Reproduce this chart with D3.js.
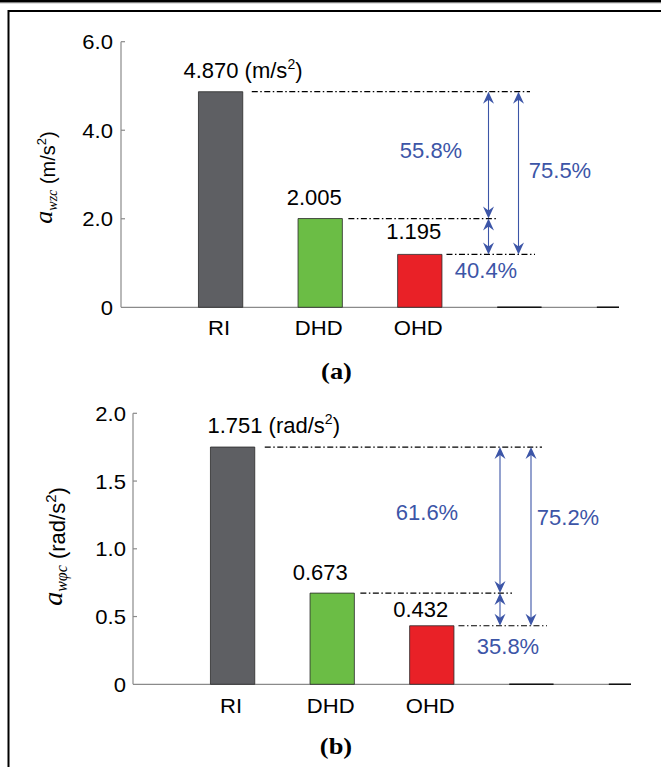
<!DOCTYPE html>
<html><head><meta charset="utf-8">
<script src="https://cdn.jsdelivr.net/npm/d3@7"></script>
<style>html,body{margin:0;padding:0;background:#fff;overflow:hidden} svg{display:block}</style>
</head><body>
<script>
// ---------- data ----------
const categories = ["RI", "DHD", "OHD", "", ""];
const valuesA = [4.870, 2.005, 1.195, 0, 0];
const valuesB = [1.751, 0.673, 0.432, 0, 0];
const valueLabelsA = ["4.870", "2.005", "1.195"];
const valueLabelsB = ["1.751", "0.673", "0.432"];
const unitA = "m/s";
const unitB = "rad/s";
const ticksA = [0, 2, 4, 6];
const tickLabelsA = ["0", "2.0", "4.0", "6.0"];
const ticksB = [0, 0.5, 1.0, 1.5, 2.0];
const tickLabelsB = ["0", "0.5", "1.0", "1.5", "2.0"];
const pctA = ["55.8%", "40.4%", "75.5%"];   // RI->DHD, DHD->OHD, RI->OHD
const pctB = ["61.6%", "35.8%", "75.2%"];
const barColors = ["#5e5f63", "#6bbd45", "#e92127", "#000000", "#000000"];

// ---------- layout ----------
const W = 661, H = 767;
const SANS = "'Liberation Sans', Arial, sans-serif";
const SERIF = "'Liberation Serif', 'Times New Roman', serif";
const BLUE = "#3c55a7";

const svg = d3.select("body").append("svg").attr("width", W).attr("height", H);

// outer frame
svg.append("rect").attr("x", 0).attr("y", 0).attr("width", W).attr("height", 2.5).attr("fill", "#000");
svg.append("rect").attr("x", 0).attr("y", 3).attr("width", W).attr("height", 1).attr("fill", "#ddd");
svg.append("rect").attr("x", 8.5).attr("y", 11).attr("width", 720).attr("height", 820)
  .attr("fill", "none").attr("stroke", "#000").attr("stroke-width", 2);

const defs = svg.append("defs");

function stretchedText(g, x, y, str, opts) {
  const t = g.append("text")
    .attr("transform", `translate(${x},${y}) scale(${opts.sx || 1},1)`)
    .attr("text-anchor", opts.anchor || "start")
    .attr("font-family", opts.family || SANS)
    .attr("font-size", opts.size)
    .attr("fill", opts.fill || "#000")
    .text(str);
  if (opts.weight) t.attr("font-weight", opts.weight);
  return t;
}

function arrowHead(g, x, y, dir) { // dir: -1 pointing up, +1 pointing down
  const L = 12, Wd = 5.5, N = 8;
  g.append("path")
    .attr("d", `M${x},${y} L${x - Wd},${y - dir * L} L${x},${y - dir * N} L${x + Wd},${y - dir * L} Z`)
    .attr("fill", BLUE);
}

function doubleArrow(g, x, yTop, yBot) {
  g.append("line").attr("x1", x).attr("x2", x).attr("y1", yTop + 6).attr("y2", yBot - 6)
    .attr("stroke", BLUE).attr("stroke-width", 1.1);
  arrowHead(g, x, yTop, -1);
  arrowHead(g, x, yBot, 1);
}

function drawPanel(cfg) {
  const g = svg.append("g");
  const x = d3.scaleLinear().domain([0, 5]).range(cfg.xRange);
  const y = d3.scaleLinear().domain(cfg.yDomain).range(cfg.yRange);
  const step = x(1) - x(0);
  const bw = step * 0.445;
  const y0 = y(0);

  const cid = "clip" + cfg.id;
  defs.append("clipPath").attr("id", cid).append("rect")
    .attr("x", cfg.xRange[0]).attr("y", 0).attr("width", cfg.xRange[1] - cfg.xRange[0]).attr("height", H);

  g.append("line").attr("x1", cfg.xRange[0]).attr("x2", cfg.xRange[1]).attr("y1", y0).attr("y2", y0)
    .attr("stroke", "#8a8a8a").attr("stroke-width", 1.2);

  g.append("g").attr("clip-path", `url(#${cid})`).selectAll("path").data(cfg.values).join("path")
    .attr("d", (d, i) => {
      const xl = x(i + 1) - bw / 2, yt = y(d);
      return `M${xl},${y0} V${yt} H${xl + bw} V${y0} Z`;
    })
    .attr("fill", (d, i) => barColors[i])
    .attr("stroke", (d, i) => i < 3 ? "#2a2a2a" : "#111")
    .attr("stroke-width", (d, i) => i < 3 ? 0.8 : 1.6);

  const ax = g.append("g").attr("transform", `translate(${cfg.xRange[0]},0)`);
  ax.append("line").attr("x1", 0).attr("x2", 0).attr("y1", y(cfg.yDomain[1])).attr("y2", y0)
    .attr("stroke", "#8a8a8a").attr("stroke-width", 1.2);
  cfg.ticks.forEach((t, i) => {
    if (i > 0) ax.append("line").attr("x1", 0).attr("x2", 4).attr("y1", y(t)).attr("y2", y(t))
      .attr("stroke", "#8a8a8a").attr("stroke-width", 1.2);
    stretchedText(ax, -cfg.tickGap, y(t) + 7.5, cfg.tickLabels[i], { size: 21, sx: 1.05, anchor: "end" });
  });

  categories.forEach((c, i) => {
    if (c) stretchedText(g, x(i + 1) - 1.5, y0 + cfg.xLabelDy, c, { size: 21, sx: 1.05, anchor: "middle" });
  });

  cfg.valueLabels.forEach((s, i) => {
    const xl = x(i + 1) - bw / 2;
    if (i === 0) {
      const t = g.append("text").attr("x", xl + cfg.firstLabelDx).attr("y", y(cfg.values[i]) - 14)
        .attr("font-family", SANS).attr("font-size", 22).attr("fill", "#000");
      t.append("tspan").text(s + " (" + cfg.unit);
      t.append("tspan").attr("font-size", 14).attr("dy", -9).text("2");
      t.append("tspan").attr("dy", 9).text(")");
    } else {
      g.append("text").attr("x", x(i + 1) + cfg.labelDx[i]).attr("y", y(cfg.values[i]) - cfg.labelDy[i])
        .attr("text-anchor", "middle").attr("font-family", SANS).attr("font-size", 22).text(s);
    }
  });

  const refs = [
    { v: cfg.values[0], x1: x(1) + bw / 2 + cfg.dashStart[0], x2: cfg.dashEnd[0] },
    { v: cfg.values[1], x1: x(2) + bw / 2 + cfg.dashStart[1], x2: cfg.dashEnd[1] },
    { v: cfg.values[2], x1: x(3) + bw / 2 + cfg.dashStart[2], x2: cfg.dashEnd[2] }
  ];
  g.selectAll("line.ref").data(refs).join("line").attr("class", "ref")
    .attr("x1", d => d.x1).attr("x2", d => d.x2).attr("y1", d => y(d.v)).attr("y2", d => y(d.v))
    .attr("stroke", "#000").attr("stroke-width", 1.2).attr("stroke-dasharray", "6,2.5,1.5,2.5");

  doubleArrow(g, cfg.arrowX[0], y(cfg.values[0]), y(cfg.values[1]));
  doubleArrow(g, cfg.arrowX[0], y(cfg.values[1]), y(cfg.values[2]));
  doubleArrow(g, cfg.arrowX[1], y(cfg.values[0]), y(cfg.values[2]));

  cfg.pct.forEach((p, i) => {
    g.append("text").attr("x", cfg.pctPos[i][0]).attr("y", cfg.pctPos[i][1])
      .attr("text-anchor", "middle").attr("font-family", SANS).attr("font-size", 22)
      .attr("fill", BLUE).text(p);
  });

  const tt = g.append("text")
    .attr("transform", `translate(${cfg.titlePos[0]},${cfg.titlePos[1]}) rotate(-90)`)
    .attr("text-anchor", "middle").attr("font-family", SANS).attr("font-size", cfg.titleSize).attr("fill", "#000");
  tt.append("tspan").attr("font-family", SERIF).attr("font-style", "italic")
    .attr("font-size", cfg.titleSize + 6).attr("dy", -3).text("a");
  tt.append("tspan").attr("font-family", SERIF).attr("font-style", "italic")
    .attr("font-size", cfg.titleSize - 6).attr("dy", 5).text(cfg.sub);
  tt.append("tspan").attr("dy", -2).text(" (" + cfg.unit);
  tt.append("tspan").attr("font-size", cfg.titleSize - 7).attr("dy", -9).text("2");
  tt.append("tspan").attr("dy", 9).text(")");

  stretchedText(g, cfg.caption[0], cfg.caption[1], cfg.captionText,
    { size: 23, sx: 1.15, anchor: "middle", family: SERIF, weight: "bold" });
}

drawPanel({
  id: "a", values: valuesA, valueLabels: valueLabelsA, unit: unitA,
  ticks: ticksA, tickLabels: tickLabelsA, pct: pctA, sub: "wzc",
  xRange: [121, 619], yDomain: [0, 6], yRange: [307.3, 41.7],
  tickGap: 8, xLabelDy: 28,
  firstLabelDx: -15, labelDx: [0, -6, -6], labelDy: [14, 14, 15],
  dashStart: [9, 6, 4.5], dashEnd: [530, 498, 535],
  arrowX: [488.5, 518.5],
  pctPos: [[431, 158], [486, 278], [560, 178]],
  titlePos: [55, 177.5], titleSize: 20,
  caption: [336.5, 379], captionText: "(a)"
});

drawPanel({
  id: "b", values: valuesB, valueLabels: valueLabelsB, unit: unitB,
  ticks: ticksB, tickLabels: tickLabelsB, pct: pctB, sub: "wφc",
  xRange: [133, 631], yDomain: [0, 2], yRange: [684.3, 413.3],
  tickGap: 7, xLabelDy: 29,
  firstLabelDx: -3, labelDx: [0, -12, -11], labelDy: [15, 13, 8.5],
  dashStart: [10, 6, 4.5], dashEnd: [542, 512, 547],
  arrowX: [500, 531],
  pctPos: [[427, 520], [508, 654], [568, 525]],
  titlePos: [65, 546.5], titleSize: 22,
  caption: [336, 754], captionText: "(b)"
});
</script>
</body></html>
